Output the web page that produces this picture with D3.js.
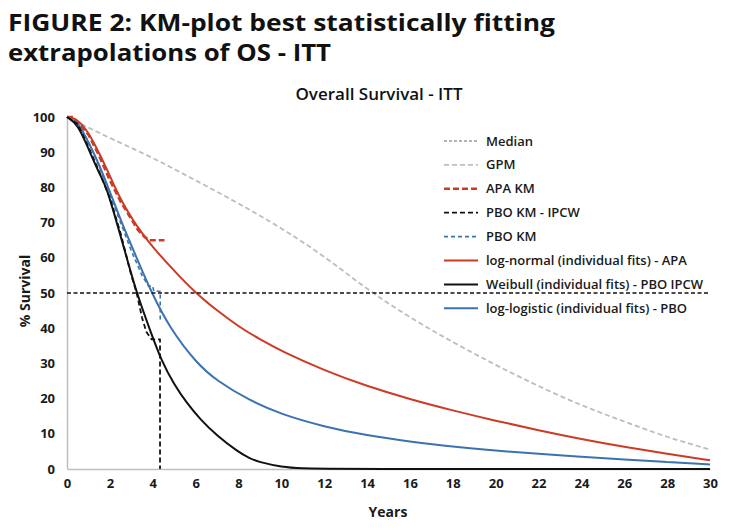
<!DOCTYPE html>
<html><head><meta charset="utf-8">
<script src="https://cdn.jsdelivr.net/npm/d3@7"></script>
<style>body{margin:0;background:#fff}svg{display:block}text{font-family:"Open Sans",sans-serif}</style>
</head><body><svg id="c" width="733" height="530"></svg>
<script>
// ---- data ----
const gpmT = [0,1,2,4,6,8,10,12,14,16,18,20,22,24,26,28,30];
const gpmS = [100,97,94,88.5,82,75.5,68.5,60.5,51,43,36,29.5,23.5,18,13.5,9,5.5];

const lnT = [0,0.25,0.5,0.75,1,1.4,1.8,2.2,2.6,3.1,3.5,4,5,6,7,8,9,10,12,14,16,18,20,22,24,26,28,30];
const lnS = [100,99.8,99,97.5,95.5,91,86,80.5,75.5,70.5,67,63,56.3,50,45,40.5,36.8,33.5,28,23.5,19.8,16.6,13.7,11,8.5,6.3,4.3,2.5];

const wbT = [0,0.5,1,1.5,1.85,2.32,2.79,3.25,3.87,4.42,5,5.58,6.2,7,8,8.5,9,10,11,12,30];
const wbS = [100,98,91,84,80,70,60,50,39.5,30.5,24,18.8,14.2,9.4,4.8,3.1,1.9,0.6,0.15,0,0];

const llT = [0,0.5,1,1.5,1.92,2.55,3.25,3.95,4.8,6.05,7,8.5,10,12,14,16,18,20,22,24,26,28,30];
const llS = [100,98.5,93,86.5,80,70,60,50,40,30,25,19.5,15.5,12,9.5,7.8,6.3,5.2,4.3,3.5,2.7,2,1.3];

const apaKmT = [0,0.3,0.5,1,1.5,2,2.5,3,3.3,3.6,3.85,4.55];
const apaKmS = [100,100,98.5,95,89,82,76,71,68,66,65,65];

const ipcwKmT = [0,0.5,1,1.5,2,2.5,3,3.25,3.5,3.7,3.95,4.34,4.34];
const ipcwKmS = [100,98,91.5,84.5,77,67,55,50,43,39,36.8,36.8,0];

const pboKmT = [0,0.5,1,1.5,2,2.5,3,3.5,3.8,4.0,4.05,4.35,4.35];
const pboKmS = [100,98.5,93,86,78,70,62,55,52,52,50.5,50.5,42];

const medianT = [0,30];
const medianS = [50,50];

const xTicks = d3.range(0,31,2);
const yTicks = d3.range(0,101,10);

const legendNames = ["Median","GPM","APA KM","PBO KM - IPCW","PBO KM",
  "log-normal (individual fits) - APA","Weibull (individual fits) - PBO IPCW","log-logistic (individual fits) - PBO"];

// ---- styles ----
const RED = "#cc3b24", BLUE = "#3b73b0";
const styles = {
  "Median": {c:"#9a9a9a", w:1.5, d:"3,2"},
  "GPM": {c:"#bdbdbd", w:1.8, d:"5,3"},
  "APA KM": {c:RED, w:2.6, d:"6,3"},
  "PBO KM - IPCW": {c:"#111", w:1.8, d:"5,3"},
  "PBO KM": {c:BLUE, w:1.6, d:"4,3"},
  "log-normal (individual fits) - APA": {c:RED, w:2, d:null},
  "Weibull (individual fits) - PBO IPCW": {c:"#111", w:2, d:null},
  "log-logistic (individual fits) - PBO": {c:BLUE, w:2, d:null}
};

const svg = d3.select("#c");
const x = d3.scaleLinear().domain([0,30]).range([67,710]);
const y = d3.scaleLinear().domain([0,100]).range([469,117]);

// titles
svg.append("text").attr("x",8).attr("y",31).attr("font-size",24).attr("font-weight",700)
  .attr("fill","#111").attr("textLength",547).attr("lengthAdjust","spacingAndGlyphs")
  .text("FIGURE 2: KM-plot best statistically fitting");
svg.append("text").attr("x",8).attr("y",61).attr("font-size",24).attr("font-weight",700)
  .attr("fill","#111").attr("textLength",323).attr("lengthAdjust","spacingAndGlyphs")
  .text("extrapolations of OS - ITT");
svg.append("text").attr("x",379).attr("y",100).attr("text-anchor","middle").attr("font-size",17)
  .attr("font-weight",600).attr("fill","#111").text("Overall Survival - ITT");

// axes
const xa = svg.append("g").attr("transform","translate(0,469)")
  .call(d3.axisBottom(x).tickValues(xTicks).tickSize(0).tickPadding(10).tickFormat(d3.format("d")));
xa.select(".domain").attr("stroke","#bfbfbf").attr("stroke-width",1.5);
xa.selectAll("text").attr("font-size",13).attr("font-weight",700).attr("fill","#1a1a1a").attr("font-family","Open Sans");

const ya = svg.append("g").attr("transform","translate(67,0)")
  .call(d3.axisLeft(y).tickValues(yTicks).tickSize(0).tickPadding(12).tickFormat(d3.format("d")));
ya.select(".domain").attr("stroke","#bfbfbf").attr("stroke-width",1.5);
ya.selectAll("text").attr("font-size",13).attr("font-weight",700).attr("fill","#1a1a1a").attr("font-family","Open Sans");

svg.append("text").attr("x",388).attr("y",517).attr("text-anchor","middle").attr("font-size",14)
  .attr("font-weight",700).attr("fill","#1a1a1a").text("Years");
svg.append("text").attr("transform","translate(30,291) rotate(-90)").attr("text-anchor","middle")
  .attr("font-size",14).attr("font-weight",700).attr("fill","#1a1a1a").text("% Survival");

// series
function draw(T,S,name,curve){
  const st = styles[name];
  const pts = T.map((t,i)=>[t,S[i]]);
  const line = d3.line().x(d=>x(d[0])).y(d=>y(d[1])).curve(curve||d3.curveLinear);
  svg.append("path").datum(pts).attr("d",line).attr("fill","none")
    .attr("stroke",st.c).attr("stroke-width",st.w).attr("stroke-dasharray",st.d)
    .attr("stroke-linejoin","round");
}
draw(gpmT,gpmS,"GPM",d3.curveBasis);
draw(lnT,lnS,"log-normal (individual fits) - APA",d3.curveBasis);
draw(llT,llS,"log-logistic (individual fits) - PBO",d3.curveBasis);
draw(wbT,wbS,"Weibull (individual fits) - PBO IPCW",d3.curveBasis);
draw(apaKmT,apaKmS,"APA KM");
draw(pboKmT,pboKmS,"PBO KM");
draw(ipcwKmT,ipcwKmS,"PBO KM - IPCW");
// median reference line at 50%
svg.append("path").datum(medianT.map((t,i)=>[t,medianS[i]]))
  .attr("d",d3.line().x(d=>x(d[0])).y(d=>y(d[1]))).attr("fill","none")
  .attr("stroke","#111").attr("stroke-width",1.4).attr("stroke-dasharray","4,2.5");

// legend
const lg = svg.append("g");
legendNames.forEach((n,i)=>{
  const yy = 141 + i*23.9;
  const st = styles[n];
  lg.append("line").attr("x1",444).attr("x2",478).attr("y1",yy).attr("y2",yy)
    .attr("stroke",st.c).attr("stroke-width",st.w).attr("stroke-dasharray",st.d);
  lg.append("text").attr("x",486).attr("y",yy+4.5).attr("font-size",13).attr("font-weight",600)
    .attr("fill","#1a1a1a").text(n);
});
</script></body></html>
